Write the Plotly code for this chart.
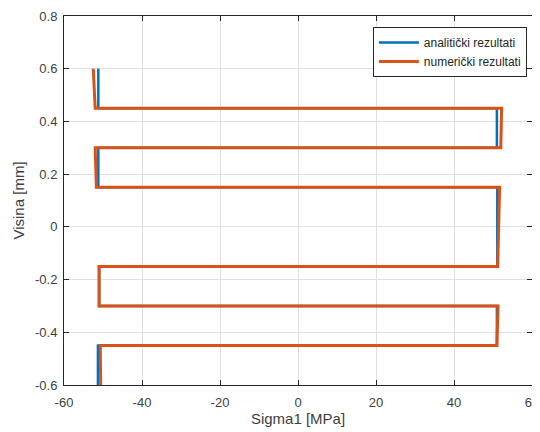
import plotly.graph_objects as go

# Layer boundaries (Visina [mm])
visina = [0.6, 0.45, 0.45, 0.3, 0.3, 0.15, 0.15, -0.15, -0.15, -0.3, -0.3, -0.45, -0.45, -0.6]
# Sigma1 [MPa]
sigma_analiticki = [-51.2, -51.2, 51.0, 51.0, -51.2, -51.2, 51.1, 51.1, -51.0, -51.0, 51.0, 51.0, -51.3, -51.3]
sigma_numericki = [-52.5, -52.0, 52.2, 52.0, -52.0, -51.7, 51.7, 51.2, -51.0, -51.0, 51.3, 51.0, -50.7, -50.6]

x_ticks = [-60, -40, -20, 0, 20, 40, 60]
y_ticks = [-0.6, -0.4, -0.2, 0, 0.2, 0.4, 0.6, 0.8]

fig = go.Figure()
fig.add_trace(go.Scatter(x=sigma_analiticki, y=visina, mode="lines",
                         name="analitički rezultati",
                         line=dict(color="#0072BD", width=2.5)))
fig.add_trace(go.Scatter(x=sigma_numericki, y=visina, mode="lines",
                         name="numerički rezultati",
                         line=dict(color="#D95319", width=3)))

axis_common = dict(
    showgrid=True, gridcolor="#e0e0e0", gridwidth=1,
    zeroline=False, showline=True, linecolor="#262626", linewidth=1,
    mirror="ticks", ticks="inside", ticklen=5, tickcolor="#262626",
    automargin=False,
    tickfont=dict(family="Liberation Sans, Arial, sans-serif", size=13, color="#404040"),
)

fig.update_layout(
    width=532, height=424,
    margin=dict(l=56, r=8, t=8, b=47),
    paper_bgcolor="white", plot_bgcolor="white",
    font=dict(family="Liberation Sans, Arial, sans-serif", color="#262626"),
    xaxis=dict(range=[-60, 60], tickvals=x_ticks,
               ticktext=[str(v) for v in x_ticks],
               ticklabelstandoff=5,
               title=dict(text="Sigma1 [MPa]", font=dict(size=15, color="#404040"), standoff=2),
               **axis_common),
    yaxis=dict(range=[-0.6, 0.8], tickvals=y_ticks,
               ticktext=[("%g" % v) for v in y_ticks],
               ticklabelstandoff=3,
               title=dict(text="Visina [mm]", font=dict(size=15, color="#404040"), standoff=6),
               **axis_common),
    legend=dict(x=0.989, y=0.97, xanchor="right", yanchor="top",
                bgcolor="white", bordercolor="#262626", borderwidth=1,
                font=dict(size=12, color="#262626"),
                tracegroupgap=0, itemwidth=40),
    showlegend=True,
)

fig.write_html("out.html")
